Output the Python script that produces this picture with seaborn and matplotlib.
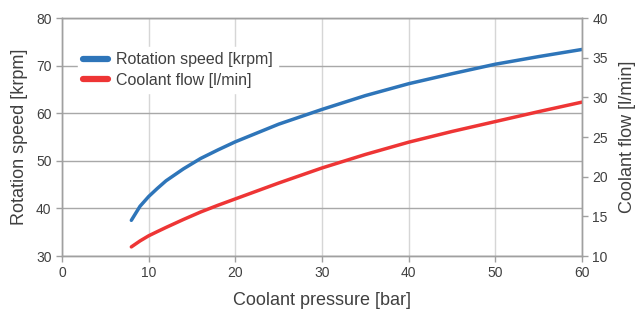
import pandas as pd
import matplotlib.pyplot as plt
import seaborn as sns
import numpy as np

# values
pressure_bar = [8, 9, 10, 11, 12, 14, 16, 18, 20, 25, 30, 35, 40, 45, 50, 55, 60]
rotation_krpm = [37.5, 40.45, 42.5, 44.2, 45.8, 48.3, 50.5, 52.3, 54.0, 57.7, 60.8, 63.7, 66.2, 68.3, 70.3, 71.9, 73.4]
coolant_flow = [11.15, 11.9, 12.55, 13.08, 13.6, 14.6, 15.55, 16.4, 17.2, 19.2, 21.1, 22.8, 24.35, 25.7, 26.95, 28.2, 29.4]

x_ticks = [0, 10, 20, 30, 40, 50, 60]
left_ticks = [30, 40, 50, 60, 70, 80]
right_ticks = [10, 15, 20, 25, 30, 35, 40]

df = pd.DataFrame({"Pressure": pressure_bar, "Rotation": rotation_krpm, "Flow": coolant_flow})

sns.set_theme(style="white")
plt.rcParams['font.family'] = ['Liberation Sans', 'DejaVu Sans']

text_col = "#404040"
spine_col = "#a0a0a0"
blue = "#2e75b9"
red = "#ee3535"

fig = plt.figure(figsize=(6.38, 3.11), dpi=100)
ax = fig.add_axes([0.0972, 0.1768, 0.8150, 0.7652])
ax2 = ax.twinx()

sns.lineplot(data=df, x="Pressure", y="Rotation", ax=ax, color=blue, linewidth=2.5, legend=False)
sns.lineplot(data=df, x="Pressure", y="Flow", ax=ax2, color=red, linewidth=2.5, legend=False)

ax.set_xlim(0, 60)
ax.set_ylim(30, 80)
ax2.set_ylim(10, 40)
ax.set_xticks(x_ticks)
ax.set_yticks(left_ticks)
ax2.set_yticks(right_ticks)

# gridlines: darker horizontal, lighter vertical
ax.yaxis.grid(True, color="#a8a8a8", linewidth=1)
ax.xaxis.grid(True, color="#d6d6d6", linewidth=1)
ax.set_axisbelow(True)

for a in (ax, ax2):
    for s in a.spines.values():
        s.set_color(spine_col)
        s.set_linewidth(1)
    a.tick_params(colors=spine_col, labelcolor=text_col, labelsize=10, length=4, width=1, direction="out")

ax.tick_params(left=True, bottom=True)
ax2.tick_params(right=True)

ax.set_xlabel("Coolant pressure [bar]", fontsize=13, color=text_col, labelpad=8)
ax.set_ylabel("Rotation speed [krpm]", fontsize=13, color=text_col, labelpad=6)
ax2.set_ylabel("Coolant flow [l/min]", fontsize=13, color=text_col, labelpad=8)

handles = [plt.Line2D([], [], color=blue, linewidth=4.5, solid_capstyle="round"),
           plt.Line2D([], [], color=red, linewidth=4.5, solid_capstyle="round")]
leg = ax2.legend(handles, ["Rotation speed [krpm]", "Coolant flow [l/min]"],
                 loc="upper left", bbox_to_anchor=(0.015, 0.91), fontsize=11.5,
                 frameon=True, framealpha=1, edgecolor="white", fancybox=False,
                 handlelength=1.6, handletextpad=0.5, labelspacing=0.35, borderpad=0.3)
for t in leg.get_texts():
    t.set_color(text_col)

plt.savefig("out.png", dpi=100)
plt.close()
